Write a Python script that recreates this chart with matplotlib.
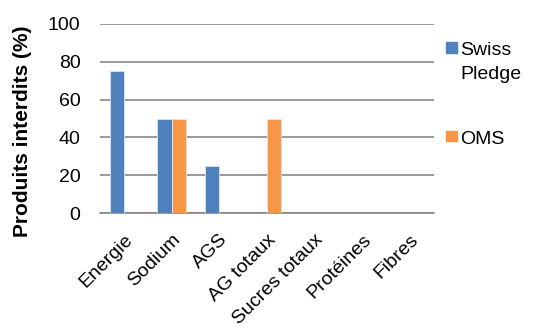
import matplotlib
matplotlib.use("Agg")
import matplotlib.pyplot as plt
import numpy as np
from matplotlib.patches import Rectangle

plt.rcParams['font.family'] = ['Liberation Sans', 'DejaVu Sans']

categories = ["Energie", "Sodium", "AGS", "AG totaux", "Sucres totaux", "Protéines", "Fibres"]
swiss_pledge = [75, 50, 25, 0, 0, 0, 0]
oms = [0, 50, 0, 50, 0, 0, 0]
series_names = ["Swiss\nPledge", "OMS"]
colors = ["#4F81BD", "#F79646"]
yticks = [0, 20, 40, 60, 80, 100]

W, H = 546, 336
fig = plt.figure(figsize=(W / 100, H / 100), dpi=100)
ax = fig.add_axes([100 / W, 1 - 213 / H, 334 / W, 189 / H])

x = np.arange(len(categories))
w = 0.295
for i, (vals, c) in enumerate(zip([swiss_pledge, oms], colors)):
    ax.bar(x + (i - 0.5) * w, vals, width=w, color=c, edgecolor="#dce6f2",
           linewidth=0.6, zorder=3)

ax.set_xlim(-0.5, len(categories) - 0.5)
ax.set_ylim(0, 100)
ax.set_yticks(yticks)
ax.set_yticklabels([str(t) for t in yticks], fontsize=14)
ax.yaxis.grid(True, color="#878787", linewidth=1.2, zorder=0)
ax.tick_params(axis="y", length=0, pad=14)
ax.tick_params(axis="x", length=0, pad=13)
ax.set_xticks(x)
ax.set_xticklabels(categories, rotation=45, ha="right", rotation_mode="anchor",
                   fontsize=14)
for side in ["left", "right", "top"]:
    ax.spines[side].set_visible(False)
ax.spines["bottom"].set_color("#878787")
ax.spines["bottom"].set_linewidth(1.2)
ax.set_ylabel("Produits interdits (%)", fontsize=15, fontweight="bold")
ax.yaxis.set_label_coords(-0.205, 0.434)

# legend: colour square followed by the series name, one line per text
leg_top = [42, 131]
for name, c, top in zip(series_names, colors, leg_top):
    fig.patches.append(Rectangle((446 / W, 1 - (top + 10.5) / H), 10.5 / W, 10.5 / H,
                                 transform=fig.transFigure, color=c, figure=fig))
    for k, line in enumerate(name.split("\n")):
        fig.text(460 / W, 1 - (top + 13 + 24 * k) / H, line, fontsize=14,
                 va="baseline", ha="left")

fig.savefig("out.png", dpi=100)
